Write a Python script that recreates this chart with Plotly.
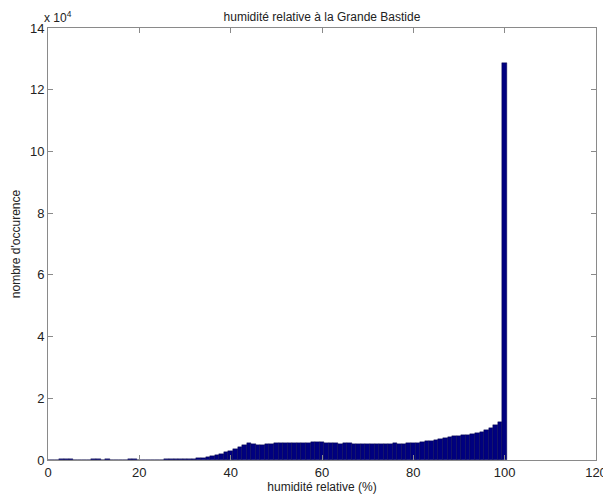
import plotly.graph_objects as go

# Histogram bins (relative humidity, %) and counts
humidity = list(range(0, 101))
counts = [
    0, 0, 0, 200, 200, 200, 0, 0, 0, 0,         # 0-9
    200, 200, 0, 200, 0, 0, 0, 0, 200, 200,     # 10-19
    0, 0, 0, 0, 150, 150, 170, 180, 190, 200,   # 20-29
    220, 300, 400, 550, 700, 900, 1200, 1600, 2000, 2500,   # 30-39
    3000, 3600, 4200, 4900, 5400, 5300, 5000, 5000, 5100, 5200,  # 40-49
    5400, 5500, 5500, 5500, 5600, 5500, 5500, 5600, 5800, 5900,  # 50-59
    5700, 5500, 5400, 5400, 5300, 5400, 5400, 5300, 5300, 5300,  # 60-69
    5300, 5300, 5300, 5300, 5300, 5300, 5400, 5300, 5300, 5400,  # 70-79
    5400, 5500, 5700, 6000, 6200, 6500, 6800, 7200, 7500, 7700,  # 80-89
    7900, 8000, 8200, 8400, 8600, 9000, 9700, 10500, 11400, 12300,  # 90-99
    128500,                                      # 100
]

x_ticks = [0, 20, 40, 60, 80, 100, 120]
y_ticks = [0, 20000, 40000, 60000, 80000, 100000, 120000, 140000]
y_ticktext = ["0", "2", "4", "6", "8", "10", "12", "14"]

font_family = "Liberation Sans, Arial, sans-serif"

fig = go.Figure()
fig.add_trace(go.Bar(
    x=humidity,
    y=counts,
    width=1,
    marker=dict(color="#00007f", line=dict(color="#000040", width=0.4)),
))

axis_common = dict(
    showline=True, linecolor="#8a8a8a", linewidth=1,
    mirror="ticks", ticks="inside", ticklen=5, tickcolor="#8a8a8a",
    showgrid=False, zeroline=False, automargin=False,
    tickfont=dict(family=font_family, size=13, color="#222222"),
)

# The page body adds an 8px offset, so the figure is sized to compensate.
fig.update_layout(
    width=603, height=488,
    margin=dict(l=40, r=15, t=20, b=36),
    paper_bgcolor="white", plot_bgcolor="white",
    showlegend=False,
    bargap=0,
    font=dict(family=font_family, size=12, color="#222222"),
    title=dict(
        text="humidité relative à la Grande Bastide",
        x=0.5, xanchor="center", xref="paper",
        y=1, yref="paper", yanchor="bottom", pad=dict(b=7),
        font=dict(family=font_family, size=12, color="#222222"),
    ),
    xaxis=dict(
        range=[0, 120], tickvals=x_ticks,
        title=dict(text="humidité relative (%)", standoff=4,
                   font=dict(family=font_family, size=12)),
        **axis_common,
    ),
    yaxis=dict(
        range=[0, 140000], tickvals=y_ticks, ticktext=y_ticktext,
        title=dict(text="nombre d'occurence", standoff=6,
                   font=dict(family=font_family, size=12)),
        **axis_common,
    ),
    annotations=[dict(
        text="x 10<sup>4</sup>", xref="paper", yref="paper",
        x=0, y=1, xanchor="left", yanchor="bottom", showarrow=False,
        xshift=-6, yshift=1,
        font=dict(family=font_family, size=12, color="#222222"),
    )],
)

fig.write_html("out.html")
